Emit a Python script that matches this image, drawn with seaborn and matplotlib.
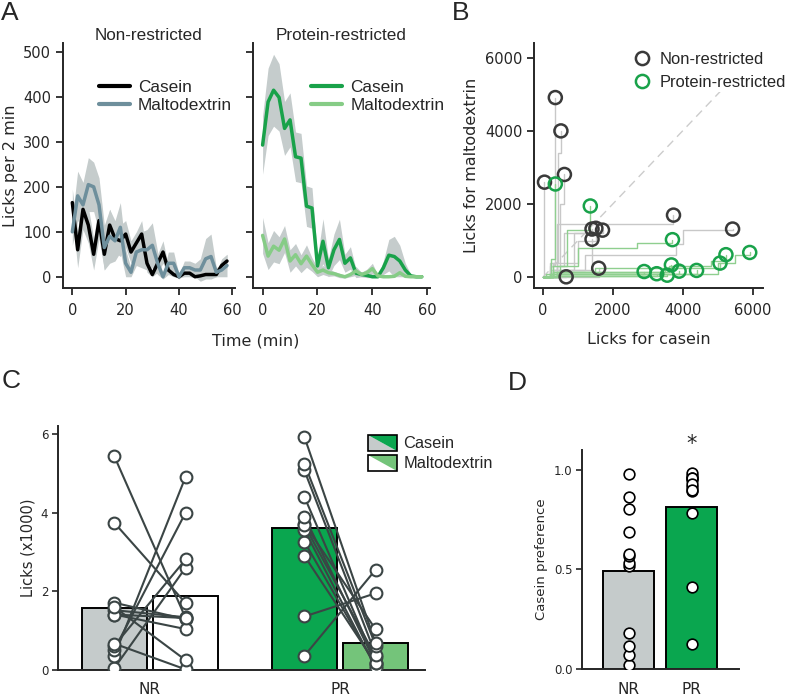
import numpy as np
import pandas as pd
import seaborn as sns
import matplotlib
matplotlib.use("Agg")
import matplotlib.pyplot as plt
from matplotlib.legend_handler import HandlerBase
from matplotlib.patches import Polygon, Rectangle
from matplotlib.lines import Line2D

sns.set_style("ticks")
plt.rcParams['font.family'] = ['DejaVu Sans']
plt.rcParams['axes.linewidth'] = 1.4
HELV = ['Liberation Sans', 'DejaVu Sans']

# ---- data ----
# panel A: licks per 2 min bin (mean and sem)
times = list(range(0, 60, 2))
nr_cas = [165, 60, 150, 115, 50, 125, 50, 115, 85, 80, 95, 55, 75, 95, 30,
          5, 30, 55, 15, 5, 0, 8, 8, 0, 2, 5, 5, 5, 25, 35]
nr_cas_sem = [30, 40, 45, 40, 35, 40, 35, 35, 30, 35, 30, 25, 25, 30, 20,
              5, 20, 25, 10, 5, 2, 8, 8, 2, 2, 5, 5, 5, 15, 15]
nr_mal = [100, 180, 160, 205, 200, 160, 65, 90, 80, 110, 30, 10, 55, 60, 60,
          70, 30, 0, 30, 30, 0, 20, 20, 15, 15, 40, 45, 10, 15, 25]
nr_mal_sem = [30, 55, 50, 60, 55, 60, 50, 60, 45, 55, 30, 10, 30, 40, 45,
              50, 25, 5, 25, 25, 5, 15, 15, 15, 25, 45, 50, 10, 15, 25]
pr_cas = [293, 389, 415, 399, 330, 349, 267, 264, 157, 153, 24, 79, 20, 60, 83,
          30, 42, 8, 5, 3, 0, 0, 20, 48, 45, 35, 15, 2, 0, 0]
pr_cas_sem = [65, 75, 80, 75, 60, 60, 55, 55, 45, 45, 20, 50, 20, 35, 45,
              20, 25, 10, 5, 5, 2, 2, 15, 35, 45, 35, 15, 3, 2, 2]
pr_mal = [92, 46, 68, 59, 84, 35, 49, 29, 46, 27, 10, 15, 9, 7, 3,
          0, 5, 13, 5, 9, 18, 2, 0, 0, 1, 9, 1, 0, 0, 0]
pr_mal_sem = [40, 30, 35, 30, 30, 25, 25, 20, 25, 15, 10, 10, 8, 5, 5,
              3, 5, 10, 5, 8, 12, 2, 0, 0, 1, 5, 1, 0, 0, 0]

# total licks per rat (session)
nr_casein = [50, 360, 520, 620, 670, 1410, 1520, 1710, 1410, 1600, 3740, 5430]
nr_malto = [2600, 4910, 4000, 2810, 15, 1320, 1340, 1290, 1040, 250, 1700, 1320]
pr_casein = [360, 1360, 3710, 2900, 3260, 3560, 3680, 3900, 4400, 5070, 5240, 5920]
pr_malto = [2550, 1950, 1030, 160, 100, 60, 340, 170, 190, 390, 620, 680]

# cumulative paths (casein, maltodextrin) before the final point
nr_paths = [
    [(0, 0), (50, 300)],
    [(0, 0), (200, 300), (360, 1500)],
    [(0, 0), (300, 400), (450, 3400)],
    [(0, 0), (400, 300), (500, 2000)],
    [(0, 0), (300, 0)],
    [(0, 0), (400, 300), (600, 1200)],
    [(0, 0), (200, 400), (1000, 1000)],
    [(0, 0), (300, 200), (900, 1200)],
    [(0, 0), (500, 200)],
    [(0, 0), (1600, 100)],
    [(0, 0), (200, 200), (400, 1450), (3740, 1450)],
    [(0, 0), (300, 200), (1200, 600), (3800, 900), (4000, 1300)],
]
pr_paths = [
    [(0, 0), (250, 500)],
    [(0, 0), (300, 300), (700, 1300)],
    [(0, 0), (500, 300), (1000, 800), (2700, 950)],
    [(0, 0), (100, 100)],
    [(0, 0), (200, 50)],
    [(0, 0), (100, 30)],
    [(0, 0), (300, 150), (1500, 250)],
    [(0, 0), (200, 100)],
    [(0, 0), (300, 100)],
    [(0, 0), (400, 150), (3500, 250)],
    [(0, 0), (300, 150), (3600, 300), (4800, 450)],
    [(0, 0), (400, 100), (5000, 400), (5500, 600)],
]

groups = ['NR', 'PR']
solutions = ['Casein', 'Maltodextrin']

# ---- colours ----
BAND = '#c5cccc'
C_NR_CAS = 'black'
C_NR_MAL = '#6e8f9c'
C_PR_CAS = '#19a24a'
C_PR_MAL = '#86cc86'
BAR_GRAY = '#c5cbcb'
BAR_GREEN = '#0aa64f'
BAR_LGREEN = '#74c47a'
DOT_EDGE = '#3b4545'

fig = plt.figure(figsize=(7.86, 6.98), dpi=100)


def fax(x0, x1, y0, y1):
    # pixel box -> figure axes
    return fig.add_axes([x0 / 786, 1 - y1 / 698, (x1 - x0) / 786, (y1 - y0) / 698])


# ---- panel A ----
def draw_a(ax, cas, cas_sem, mal, mal_sem, colors, title, legx):
    for m, s in ((cas, cas_sem), (mal, mal_sem)):
        m, s = np.array(m), np.array(s)
        ax.fill_between(times, m - s, m + s, color=BAND, lw=0, zorder=1)
    df = pd.DataFrame({'time': times * 2,
                       'licks': cas + mal,
                       'solution': ['Casein'] * len(times) + ['Maltodextrin'] * len(times)})
    sns.lineplot(data=df, x='time', y='licks', hue='solution', palette=colors,
                 lw=2.5, ax=ax, zorder=3)
    ax.set_xlim(-3.5, 61)
    ax.set_ylim(-25, 520)
    ax.set_xticks([0, 20, 40, 60])
    ax.set_yticks([0, 100, 200, 300, 400, 500])
    ax.set_xlabel('')
    ax.set_ylabel('')
    ax.set_title(title, fontsize=12.3, family=HELV, pad=2)
    ax.legend(frameon=False, loc='upper left', bbox_to_anchor=(legx, 0.85),
              borderaxespad=0, borderpad=0, handlelength=1.8, handletextpad=0.45,
              labelspacing=0.2, prop={'family': HELV, 'size': 12.4})
    for ln in ax.get_legend().get_lines():
        ln.set_linewidth(3)
    sns.despine(ax=ax)
    ax.tick_params(length=5, width=1.3, labelsize=10.5)
    ax.tick_params(axis='x', pad=6)


ax_a1 = fax(63, 235, 43, 288)
draw_a(ax_a1, nr_cas, nr_cas_sem, nr_mal, nr_mal_sem, [C_NR_CAS, C_NR_MAL],
       'Non-restricted', 0.21)
ax_a1.set_ylabel('Licks per 2 min', fontsize=11.5)

ax_a2 = fax(253, 430, 43, 288)
draw_a(ax_a2, pr_cas, pr_cas_sem, pr_mal, pr_mal_sem, [C_PR_CAS, C_PR_MAL],
       'Protein-restricted', 0.33)
ax_a2.tick_params(labelleft=False)
fig.text(256 / 786, 1 - 341 / 698, 'Time (min)', ha='center', va='center', fontsize=11.5)

# ---- panel B ----
ax_b = fax(534, 763, 43, 288)
ax_b.plot([0, 6000], [0, 6000], ls=(0, (6, 4)), color='#cccccc', lw=1, zorder=1)
for paths, xs_f, ys_f, c in ((nr_paths, nr_casein, nr_malto, '#c8c8c8'),
                             (pr_paths, pr_casein, pr_malto, '#8fcf8f')):
    for path, xf, yf in zip(paths, xs_f, ys_f):
        px = [p[0] for p in path] + [xf]
        py = [p[1] for p in path] + [yf]
        ax_b.plot(px, py, drawstyle='steps-post', color=c, lw=1, zorder=2)
for xs_f, ys_f, c in ((nr_casein, nr_malto, '#3a3a3a'), (pr_casein, pr_malto, C_PR_CAS)):
    ax_b.scatter(xs_f, ys_f, s=88, facecolor='none', edgecolor=c, linewidth=1.8, zorder=4)
ax_b.set_xlim(-250, 6300)
ax_b.set_ylim(-290, 6400)
ax_b.set_xticks([0, 2000, 4000, 6000])
ax_b.set_yticks([0, 2000, 4000, 6000])
ax_b.set_xlabel('Licks for casein', fontsize=11.5, labelpad=10)
ax_b.set_ylabel('Licks for maltodextrin', fontsize=11.5)
hb = [Line2D([], [], ls='none', marker='o', ms=9.5, mfc='none', mec='#3a3a3a', mew=1.8),
      Line2D([], [], ls='none', marker='o', ms=9.5, mfc='none', mec=C_PR_CAS, mew=1.8)]
lg = ax_b.legend(hb, ['Non-restricted', 'Protein-restricted'], loc='upper left',
                 bbox_to_anchor=(0.43, 0.97), borderaxespad=0, borderpad=0.1,
                 handlelength=1.0, handletextpad=0.55, labelspacing=0.5,
                 frameon=True, facecolor='white', edgecolor='none', framealpha=1,
                 prop={'family': HELV, 'size': 11.9})
lg.set_zorder(5)
sns.despine(ax=ax_b)
ax_b.tick_params(length=5, width=1.3, labelsize=10.5)
ax_b.tick_params(axis='x', pad=6)

# ---- panel C ----
ax_c = fax(58, 425, 426, 670)
rows = []
for g, cas, mal in (('NR', nr_casein, nr_malto), ('PR', pr_casein, pr_malto)):
    for v in cas:
        rows.append((g, 'Casein', v / 1000))
    for v in mal:
        rows.append((g, 'Maltodextrin', v / 1000))
df_c = pd.DataFrame(rows, columns=['group', 'solution', 'licks'])
sns.barplot(data=df_c, x='group', y='licks', hue='solution', order=groups,
            hue_order=solutions, errorbar=None, width=0.75, gap=0.09,
            edgecolor='black', linewidth=1.4, legend=False, ax=ax_c)
bars = sorted(ax_c.patches, key=lambda p: p.get_x())
for p, fc in zip(bars, [BAR_GRAY, 'white', BAR_GREEN, BAR_LGREEN]):
    p.set_facecolor(fc)
off = 0.1875
for gi, (cas, mal) in enumerate(((nr_casein, nr_malto), (pr_casein, pr_malto))):
    for a, b in zip(cas, mal):
        ax_c.plot([gi - off, gi + off], [a / 1000, b / 1000], color=DOT_EDGE, lw=1.5, zorder=3)
    ax_c.scatter([gi - off] * len(cas) + [gi + off] * len(mal),
                 [v / 1000 for v in cas] + [v / 1000 for v in mal],
                 s=72, facecolor='white', edgecolor=DOT_EDGE, linewidth=1.5, zorder=4)
ax_c.set_xlim(-0.484, 1.447)
ax_c.set_ylim(0, 6.2)
ax_c.set_yticks([0, 2, 4, 6])
ax_c.set_xlabel('')
ax_c.set_ylabel('Licks (x1000)', fontsize=10.5)
sns.despine(ax=ax_c)
ax_c.tick_params(axis='y', length=4, width=1.2, labelsize=8.5, pad=3)
ax_c.tick_params(axis='x', length=0, labelsize=11, pad=9)


class SplitHandler(HandlerBase):
    def __init__(self, c1, c2):
        super().__init__()
        self.c1, self.c2 = c1, c2

    def create_artists(self, legend, orig_handle, xdescent, ydescent, width, height,
                       fontsize, trans):
        x0, y0 = -xdescent, -ydescent
        low = Polygon([[x0, y0 + height], [x0, y0], [x0 + width, y0]],
                      fc=self.c1, ec='none', transform=trans)
        up = Polygon([[x0, y0 + height], [x0 + width, y0 + height], [x0 + width, y0]],
                     fc=self.c2, ec='none', transform=trans)
        box = Rectangle((x0, y0), width, height, fc='none', ec='black', lw=1.2,
                        transform=trans)
        return [low, up, box]


h1, h2 = Rectangle((0, 0), 1, 1), Rectangle((0, 0), 1, 1)
ax_c.legend([h1, h2], solutions, loc='upper left', bbox_to_anchor=(0.845, 0.965),
            handler_map={h1: SplitHandler(BAR_GRAY, BAR_GREEN),
                         h2: SplitHandler('white', BAR_LGREEN)},
            frameon=False, borderaxespad=0, borderpad=0, handlelength=1.75,
            handleheight=1.15, handletextpad=0.4, labelspacing=0.2,
            prop={'family': HELV, 'size': 11.8})

# ---- panel D ----
ax_d = fax(582, 739, 450, 669)
df_d = pd.DataFrame({
    'group': ['NR'] * len(nr_casein) + ['PR'] * len(pr_casein),
    'pref': [a / (a + b) for a, b in zip(nr_casein, nr_malto)] +
            [a / (a + b) for a, b in zip(pr_casein, pr_malto)],
})
sns.barplot(data=df_d, x='group', y='pref', hue='group', order=groups,
            palette=[BAR_GRAY, BAR_GREEN], saturation=1, errorbar=None, width=0.8,
            edgecolor='black', linewidth=1.4, legend=False, ax=ax_d)
sns.stripplot(data=df_d, x='group', y='pref', order=groups, jitter=False,
              color='white', edgecolor='black', linewidth=1.2, size=7.7,
              zorder=4, ax=ax_d)
ax_d.text(1, 1.13, '*', ha='center', va='center', fontsize=15, clip_on=False)
ax_d.set_xlim(-0.74, 1.75)
ax_d.set_ylim(0, 1.1)
ax_d.set_yticks([0, 0.5, 1.0])
ax_d.set_xlabel('')
ax_d.set_ylabel('Casein preference', fontsize=9.5)
sns.despine(ax=ax_d)
ax_d.tick_params(axis='y', length=4, width=1.2, labelsize=8.5, pad=3)
ax_d.tick_params(axis='x', length=0, labelsize=11, pad=9)

# ---- panel letters ----
for lab, x, y in (('A', 10, 13), ('B', 461, 13), ('C', 11, 381), ('D', 517, 383)):
    fig.text(x / 786, 1 - y / 698, lab, ha='center', va='center', fontsize=19, family=HELV)

fig.savefig('out.png', dpi=100)
